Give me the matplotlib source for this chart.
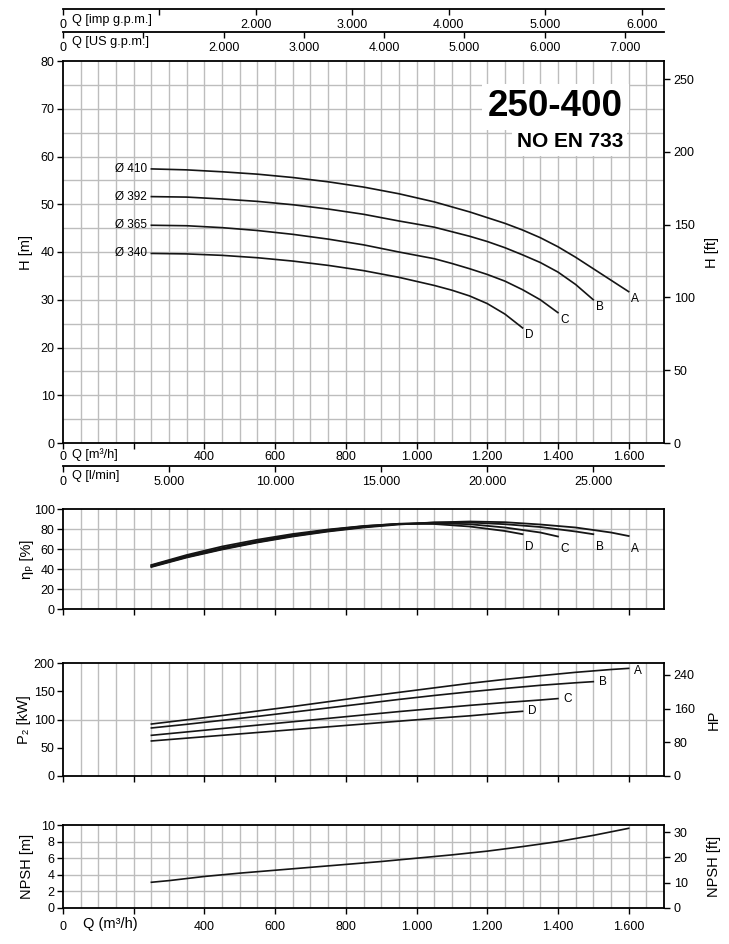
import matplotlib.pyplot as plt
import numpy as np

plt.rcParams['font.family'] = ['Liberation Sans', 'DejaVu Sans']
plt.rcParams['font.size'] = 9

# unit conversions (from m3/h, m, kW)
M_TO_FT = 3.2808
KW_TO_HP = 1.341
IMP_GPM = 3.6662
US_GPM = 4.4029
L_MIN = 16.667

# head curves: flow [m3/h] and head [m]
q_head_a = [250, 350, 450, 550, 650, 750, 850, 950, 1050, 1150, 1250, 1300, 1350, 1400, 1450, 1500, 1550, 1600]
head_a = [57.4, 57.2, 56.8, 56.3, 55.6, 54.7, 53.6, 52.2, 50.5, 48.4, 46.0, 44.6, 43.0, 41.1, 38.9, 36.5, 34.1, 31.7]
q_head_b = [250, 350, 450, 550, 650, 750, 850, 950, 1050, 1150, 1200, 1250, 1300, 1350, 1400, 1450, 1500]
head_b = [51.6, 51.5, 51.1, 50.6, 49.9, 49.0, 47.9, 46.5, 45.2, 43.3, 42.2, 40.9, 39.4, 37.8, 35.8, 33.2, 30.0]
q_head_c = [250, 350, 450, 550, 650, 750, 850, 950, 1050, 1100, 1150, 1200, 1250, 1300, 1350, 1400]
head_c = [45.6, 45.5, 45.1, 44.5, 43.7, 42.7, 41.5, 40.0, 38.6, 37.6, 36.5, 35.3, 33.9, 32.1, 30.0, 27.3]
q_head_d = [250, 350, 450, 550, 650, 750, 850, 950, 1050, 1100, 1150, 1200, 1250, 1300]
head_d = [39.7, 39.6, 39.3, 38.8, 38.1, 37.2, 36.1, 34.7, 33.0, 32.0, 30.8, 29.2, 27.0, 24.1]

# flow points for efficiency and power curves (m3/h)
q_a = [250, 350, 450, 550, 650, 750, 850, 950, 1050, 1150, 1250, 1350, 1450, 1550, 1600]
q_b = [250, 350, 450, 550, 650, 750, 850, 950, 1050, 1150, 1250, 1350, 1450, 1500]
q_c = [250, 350, 450, 550, 650, 750, 850, 950, 1050, 1150, 1250, 1350, 1400]
q_d = [250, 350, 450, 550, 650, 750, 850, 950, 1050, 1150, 1250, 1300]

# pump efficiency [%]
eta_a = [42.0, 51.5, 59.5, 66.5, 72.5, 77.5, 81.5, 84.5, 86.5, 87.5, 86.8, 84.5, 81.5, 76.5, 73.0]
eta_b = [42.5, 52.0, 60.0, 67.0, 73.0, 78.0, 82.0, 85.0, 86.5, 86.5, 84.8, 82.0, 77.5, 74.8]
eta_c = [43.5, 53.0, 61.0, 68.0, 74.0, 79.0, 82.8, 85.2, 85.8, 84.8, 81.5, 76.5, 72.5]
eta_d = [44.0, 54.0, 62.5, 69.3, 75.0, 79.5, 83.0, 85.2, 85.0, 82.5, 78.0, 74.8]

# shaft power P2 [kW]
p2_a = [92, 99.5, 107, 115, 123, 131.5, 140, 148, 156, 164, 171, 177.5, 183.5, 188.5, 190.5]
p2_b = [85, 91.5, 98.5, 105.5, 113, 120.5, 128, 135.5, 142.5, 149, 155, 160.5, 165, 167]
p2_c = [72, 78, 84, 90, 96, 102, 108, 114, 119.5, 125, 130, 134.5, 137]
p2_d = [62, 67, 72, 77, 82, 87, 92, 97, 102, 106.5, 112, 114.5]

# NPSH [m]
q_npsh = [250, 300, 400, 500, 600, 700, 800, 900, 1000, 1100, 1200, 1300, 1400, 1500, 1600]
npsh = [3.1, 3.3, 3.8, 4.2, 4.55, 4.9, 5.25, 5.6, 6.0, 6.4, 6.85, 7.4, 8.0, 8.75, 9.6]

letters = ['A', 'B', 'C', 'D']
diameters = ['Ø 410', 'Ø 392', 'Ø 365', 'Ø 340']
q_heads = [q_head_a, q_head_b, q_head_c, q_head_d]
heads = [head_a, head_b, head_c, head_d]
q_sets = [q_a, q_b, q_c, q_d]
etas = [eta_a, eta_b, eta_c, eta_d]
powers = [p2_a, p2_b, p2_c, p2_d]
q_labels = ['0', '', '400', '600', '800', '1.000', '1.200', '1.400', '1.600']

GRID = '#bdbdbd'
LINE = '#151515'
W, H = 729, 944
X0, X1 = 63, 664
QMAX = 1700
TICK_FS = 9

fig = plt.figure(figsize=(W / 100, H / 100), dpi=100)


def box(x0, y0, x1, y1):
    return [x0 / W, 1 - y1 / H, (x1 - x0) / W, (y1 - y0) / H]


def dots(v):
    return f"{int(round(v)):,}".replace(',', '.')


def panel(y0, y1, ymax, yticks, hgrid, ylabel, lx):
    ax = fig.add_axes(box(X0, y0, X1, y1))
    ax.set_xlim(0, QMAX)
    ax.set_ylim(0, ymax)
    for q in np.arange(50, QMAX, 50):
        ax.axvline(q, color=GRID, lw=1, zorder=0)
    for v in hgrid:
        ax.axhline(v, color=GRID, lw=1, zorder=0)
    ax.set_xticks(range(0, 1601, 200))
    ax.set_xticklabels([])
    ax.set_yticks(yticks)
    ax.tick_params(direction='out', length=4, width=1, labelsize=TICK_FS, pad=2)
    for s in ax.spines.values():
        s.set_linewidth(1.3)
    ax.set_ylabel(ylabel, fontsize=10.5)
    ax.yaxis.set_label_coords((lx - X0) / (X1 - X0), 0.5)
    return ax


def twin(ax, factor, ymax, ticks, label, lx):
    a2 = ax.twinx()
    a2.set_ylim(0, ymax * factor)
    a2.set_yticks(ticks)
    a2.tick_params(direction='out', length=4, width=1, labelsize=TICK_FS, pad=3)
    a2.set_ylabel(label, fontsize=10.5)
    a2.yaxis.set_label_coords((lx - X0) / (X1 - X0), 0.5)
    for s in a2.spines.values():
        s.set_visible(False)
    return a2


def flow_scale(y, factor, step, skip, name):
    a = fig.add_axes(box(X0, y - 0.5, X1, y))
    a.set_xlim(0, QMAX * factor)
    a.set_ylim(0, 1)
    for s in ['top', 'left', 'right']:
        a.spines[s].set_visible(False)
    a.spines['bottom'].set_linewidth(1.3)
    a.set_yticks([])
    ticks = np.arange(0, QMAX * factor, step)
    a.set_xticks(ticks)
    a.set_xticklabels(['' if t in skip else dots(t) for t in ticks])
    a.tick_params(direction='out', length=4, width=1, labelsize=TICK_FS, pad=3)
    fig.text((X0 + 9) / W, 1 - (y + 10.5) / H, name, fontsize=9.2, va='center', ha='left')
    return a


# ---- H-Q panel
ax_h = panel(61, 443, 80, range(0, 81, 10), np.arange(5, 80, 5), 'H [m]', 33)
twin(ax_h, M_TO_FT, 80, range(0, 251, 50), 'H [ft]', 705)
for q, h, let, dia in zip(q_heads, heads, letters, diameters):
    ax_h.plot(q, h, color=LINE, lw=1.2)
    ax_h.annotate(dia, (q[0], h[0]), xytext=(-3, 0), textcoords='offset points',
                  ha='right', va='center', fontsize=8.5)
    ax_h.annotate(let, (q[-1], h[-1]), xytext=(2, -1), textcoords='offset points',
                  ha='left', va='top', fontsize=8.5)
ax_h.set_xticklabels(q_labels)
fig.text((X0 + 9) / W, 1 - 455 / H, 'Q [m³/h]', fontsize=9.2, va='center', ha='left')

fig.text(623 / W, 1 - 107 / H, '250-400', fontsize=26.5, fontweight='bold', ha='right',
         va='center', bbox=dict(fc='white', ec='none', pad=4))
fig.text(623 / W, 1 - 142 / H, 'NO EN 733', fontsize=15, fontweight='bold', ha='right',
         va='center', bbox=dict(fc='white', ec='none', pad=3))

# ---- secondary flow scales
flow_scale(9, IMP_GPM, 1000, [1000], 'Q [imp g.p.m.]')
flow_scale(32, US_GPM, 1000, [1000], 'Q [US g.p.m.]')
flow_scale(466, L_MIN, 5000, [], 'Q [l/min]')

# ---- efficiency panel
ax_e = panel(509, 609, 100, range(0, 101, 20), range(20, 100, 20), 'ηₚ [%]', 34)
for q, e, let in zip(q_sets, etas, letters):
    ax_e.plot(q, e, color=LINE, lw=1.3)
    ax_e.annotate(let, (q[-1], e[-1]), xytext=(2, -5), textcoords='offset points',
                  ha='left', va='top', fontsize=8.5)

# ---- power panel
ax_p = panel(663, 776, 200, range(0, 201, 50), [100], 'P₂ [kW]', 31)
twin(ax_p, KW_TO_HP, 200, [0, 80, 160, 240], 'HP', 707)
for q, p, let in zip(q_sets, powers, letters):
    ax_p.plot(q, p, color=LINE, lw=1.2)
    ax_p.annotate(let, (q[-1], p[-1]), xytext=(4, -2 if let == 'A' else 0),
                  textcoords='offset points', ha='left', va='center', fontsize=8.5)

# ---- NPSH panel
ax_n = panel(825, 908, 10, range(0, 11, 2), range(2, 10, 2), 'NPSH [m]', 34)
twin(ax_n, M_TO_FT, 10, [0, 10, 20, 30], 'NPSH [ft]', 707)
ax_n.plot(q_npsh, npsh, color=LINE, lw=1.2)
ax_n.set_xticklabels(q_labels)
ax_n.tick_params(axis='x', pad=5)
fig.text(83 / W, 1 - 924 / H, 'Q (m³/h)', fontsize=10.5, va='center', ha='left')

plt.savefig('out.png', dpi=100)
